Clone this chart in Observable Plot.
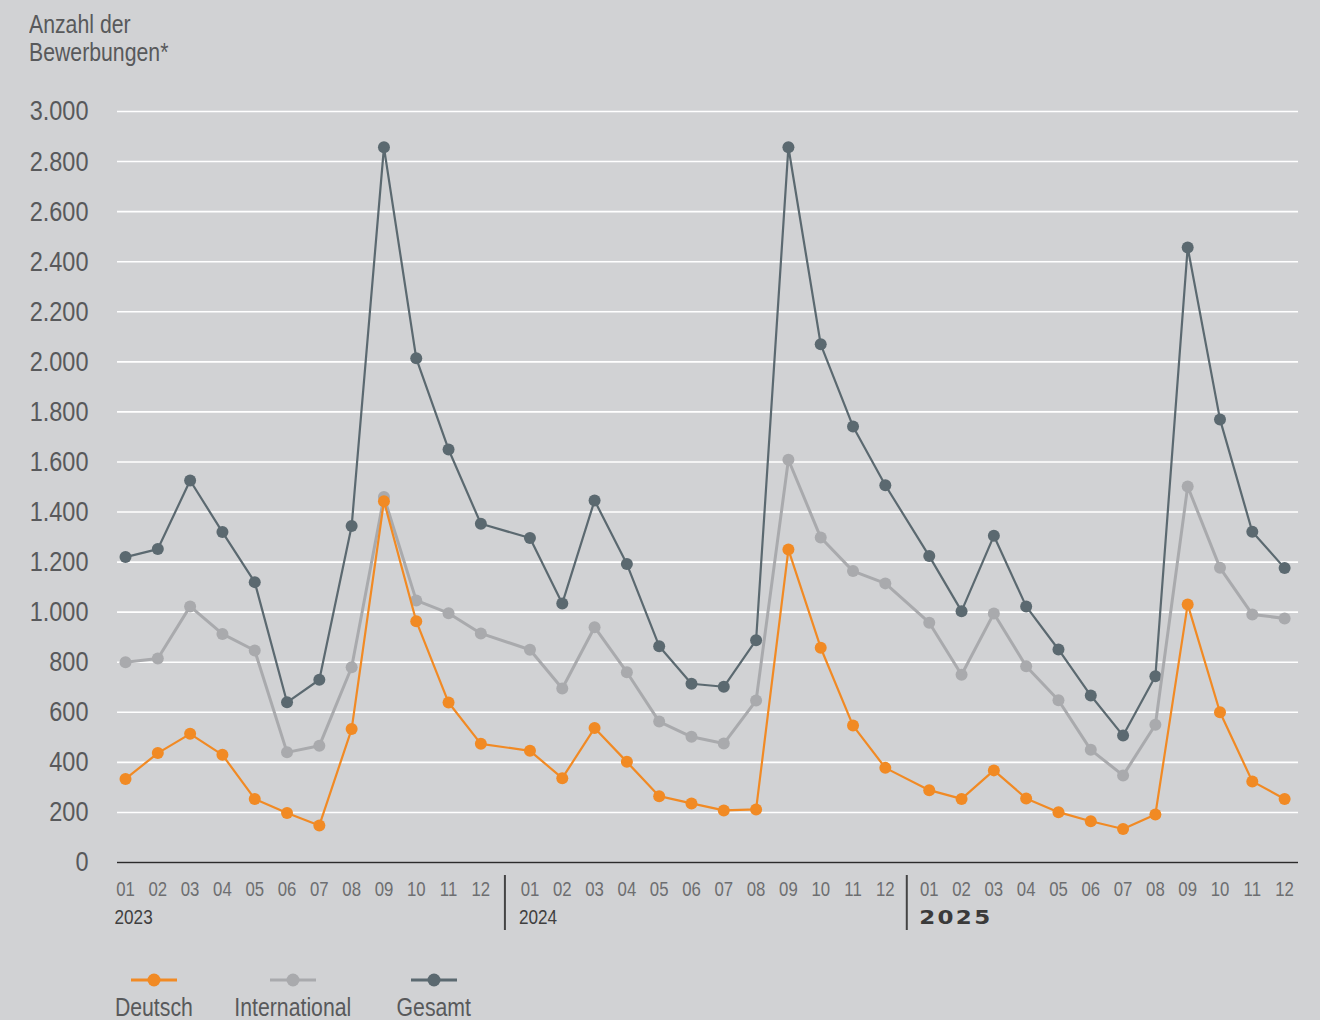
<!DOCTYPE html>
<html><head><meta charset="utf-8">
<script src="https://cdn.jsdelivr.net/npm/d3@7"></script>
<script src="https://cdn.jsdelivr.net/npm/@observablehq/plot@0.6"></script>
<style>
html,body{margin:0;padding:0;overflow:hidden;background:#d1d2d4;}
#wrap{position:relative;width:1320px;height:1020px;background:#d1d2d4;font-family:"Liberation Sans",Arial,sans-serif;color:#58595b;}
#title{position:absolute;left:29px;top:10px;font-size:25px;line-height:28px;transform:scaleX(0.85);transform-origin:0 0;white-space:nowrap;}
#chart{position:absolute;left:0;top:0;}
.leg{position:absolute;top:973px;width:160px;text-align:center;font-size:25px;line-height:28px;}
.leg svg{display:block;margin:0 auto 6px auto;}
.leg span{display:inline-block;transform:scaleX(0.85);transform-origin:50% 50%;white-space:nowrap;}
</style>
</head><body>
<div id="wrap">
  <div id="chart"></div>
  <div id="title">Anzahl der<br>Bewerbungen*</div>
  <div id="legend"></div>
</div>
<script>
const years = ["2023", "2024", "2025"];
const months = ["01","02","03","04","05","06","07","08","09","10","11","12"];
const deutsch = [334,437,514,430,254,198,148,533,1443,964,639,474,
                 446,337,537,402,265,236,208,212,1250,858,547,378,
                 289,254,368,256,201,165,134,192,1031,600,324,254];
const international = [800,815,1023,913,847,440,466,780,1460,1047,996,915,
                       850,695,940,760,563,502,475,647,1609,1298,1164,1115,
                       958,750,995,784,648,450,348,550,1502,1177,991,975];
const gesamt = [1220,1252,1526,1320,1120,640,730,1344,2857,2014,1650,1353,
                1296,1035,1446,1192,864,714,702,888,2857,2070,1742,1507,
                1224,1004,1305,1023,851,667,507,744,2457,1770,1321,1176];
const seriesNames = ["Deutsch", "International", "Gesamt"];
const colors = {"Deutsch": "#f18a24", "International": "#a9aaad", "Gesamt": "#5b6970"};

// layout: extra horizontal gap inserted before each year block
const yearGap = [0, 0.52, 0.88];

const rows = [];
years.forEach((yr, yi) => months.forEach((m, mi) => {
  const i = yi * 12 + mi;
  rows.push({year: yr, month: m, pos: i + yearGap[yi],
    Deutsch: deutsch[i], International: international[i], Gesamt: gesamt[i]});
}));
const monthLabel = new Map(rows.map(d => [d.pos, d.month]));
const janRows = rows.filter(d => d.month === "01");

const de = d3.formatLocale({decimal: ",", thousands: ".", grouping: [3], currency: ["", "€"]});
const fmt = de.format(",");
const yTicks = d3.range(0, 3001, 200);

const separators = (index, {x, y}) => {
  const g = d3.create("svg:g");
  for (let k = 1; k < years.length; k++) {
    const dec = rows[k * 12 - 1].pos, jan = rows[k * 12].pos;
    const xp = (x(dec) + x(jan)) / 2;
    g.append("line").attr("x1", xp).attr("x2", xp)
      .attr("y1", y(0) + 13).attr("y2", y(0) + 68)
      .attr("stroke", "#444").attr("stroke-width", 2);
  }
  return g.node();
};

const chart = Plot.plot({
  width: 1320, height: 950,
  marginTop: 111, marginBottom: 88, marginLeft: 117, marginRight: 22,
  style: {background: "transparent", fontFamily: "'Liberation Sans',Arial,sans-serif", color: "#58595b"},
  x: {type: "linear", domain: [-0.248, 36.31], axis: null},
  y: {domain: [0, 3000], axis: null},
  marks: [
    Plot.gridY(yTicks, {stroke: "#ffffff", strokeOpacity: 1, strokeWidth: 1.6}),
    Plot.axisY(yTicks, {tickSize: 0, tickPadding: 29, tickFormat: fmt, fontSize: 28, fill: "#58595b", label: null}),
    Plot.axisX(rows.map(d => d.pos), {tickSize: 0, tickPadding: 20, tickFormat: p => monthLabel.get(p), fontSize: 19.5, fill: "#6d6e70", label: null}),
    Plot.ruleY([0], {stroke: "#2b2b2b", strokeWidth: 1.6}),
    Plot.text(janRows.filter(d => d.year !== "2025"), {x: "pos", y: 0, text: "year", dx: -11, dy: 55, textAnchor: "start", fontSize: 19.5, fill: "#3f3f3f"}),
    Plot.text(janRows.filter(d => d.year === "2025"), {x: "pos", y: 0, text: "year", dx: -10, dy: 55, textAnchor: "start", fontSize: 20, fontWeight: "bold", fontFamily: "DejaVu Sans", fill: "#3a3a3a"}),
    separators,
    Plot.line(rows, {x: "pos", y: "Gesamt", stroke: colors.Gesamt, strokeWidth: 2.2}),
    Plot.dot(rows, {x: "pos", y: "Gesamt", r: 6, fill: colors.Gesamt}),
    Plot.line(rows, {x: "pos", y: "International", stroke: colors.International, strokeWidth: 3}),
    Plot.dot(rows, {x: "pos", y: "International", r: 6, fill: colors.International}),
    Plot.line(rows, {x: "pos", y: "Deutsch", stroke: colors.Deutsch, strokeWidth: 2.2}),
    Plot.dot(rows, {x: "pos", y: "Deutsch", r: 6, fill: colors.Deutsch})
  ]
});
document.getElementById("chart").appendChild(chart);

// condense the text (the narrow typeface of the original is not installed)
function squeezeNode(node, sx, spacing) {
  const t = d3.select(node);
  let tr = t.attr("transform");
  if (!tr) {
    const x = t.attr("x") || 0, y = t.attr("y") || 0;
    tr = `translate(${x},${y})`;
    t.attr("x", null).attr("y", null);
  }
  t.attr("transform", tr + ` scale(${sx},1)`);
  if (spacing) t.style("letter-spacing", spacing);
}
d3.select(chart).selectAll("text").each(function() {
  const g = this.closest("g[aria-label]");
  const label = g ? g.getAttribute("aria-label") : "";
  const txt = this.textContent;
  if (label === "y-axis tick label") squeezeNode(this, 0.84);
  else if (label === "x-axis tick label") squeezeNode(this, 0.86);
  else if (txt === "2025") squeezeNode(this, 1.15, "2px");
  else if (years.includes(txt)) squeezeNode(this, 0.88);
});

const legendCenters = [154, 293, 434];
const legend = document.getElementById("legend");
seriesNames.forEach((name, i) => {
  const div = document.createElement("div");
  div.className = "leg";
  div.style.left = (legendCenters[i] - 80) + "px";
  div.innerHTML = `<svg width="46" height="14"><line x1="0" x2="46" y1="7" y2="7" stroke="${colors[name]}" stroke-width="3"/><circle cx="23" cy="7" r="6.5" fill="${colors[name]}"/></svg><span>${name}</span>`;
  legend.appendChild(div);
});
</script>
</body></html>
